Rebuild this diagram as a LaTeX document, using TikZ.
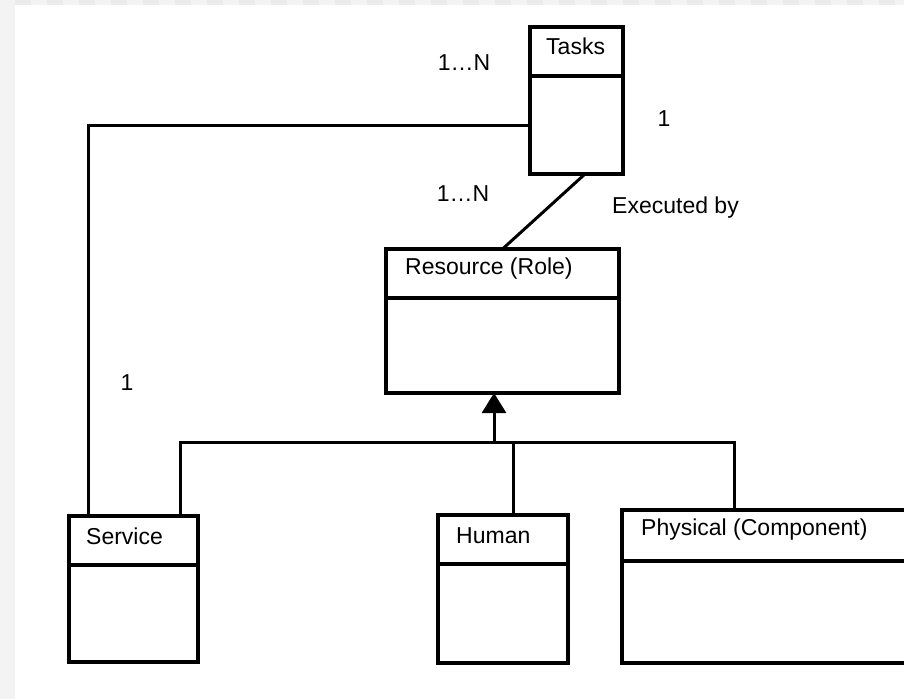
\documentclass[tikz,border=0pt]{standalone}
\usepackage{fontspec}
\setmainfont{Liberation Sans}
\usetikzlibrary{arrows.meta}
\definecolor{stripA}{HTML}{F3F3F3}
\definecolor{stripB}{HTML}{EBEBEB}
\tikzset{
classbox/.style={draw, line width=3.2pt, anchor=north west, inner sep=0pt, outer sep=0pt,
  path picture={
    \draw[line width=3.2pt] ([yshift=-#1]path picture bounding box.north west) --
                            ([yshift=-#1]path picture bounding box.north east);
  }},
classname/.style={anchor=west, inner sep=0pt},
mult/.style={inner sep=0pt},
link/.style={line width=3pt}
}

\begin{document}
\begin{tikzpicture}[x=1pt, y=-1pt, font=\fontsize{23}{26}\selectfont]
\useasboundingbox (0,0) rectangle (904,699);
\clip (0,0) rectangle (904,699);
% page strips
\fill[white] (0,0) rectangle (904,699);
\fill[stripA] (0,0) rectangle (15,699);
\fill[stripA] (15,0) rectangle (904,5);
\draw[stripB, line width=5pt, dash pattern=on 16pt off 16pt] (15,2.5) -- (904,2.5);

% classes
\node[classbox=49pt, minimum width=93pt, minimum height=147pt] (tasks) at (530,27) {};
\node[classname] (tasksname) at (546,46) {Tasks};
\node[classbox=49pt, minimum width=233pt, minimum height=144pt] (resource) at (386,249) {};
\node[classname] (resourcename) at (405,269) {Resource (Role)};
\node[classbox=49pt, minimum width=129pt, minimum height=146pt] (service) at (69,516) {};
\node[classname] (servicename) at (86,536) {Service};
\node[classbox=49pt, minimum width=130pt, minimum height=148pt] (human) at (438,515) {};
\node[classname] (humanname) at (456,536) {Human};
\node[classbox=51pt, minimum width=300pt, minimum height=153pt] (physical) at (622,510) {};
\node[classname] (physicalname) at (641,530) {Physical (Component)};

% multiplicities
\node[mult] (m1) at (464,63) {1…N};
\node[mult] (m2) at (463,194) {1…N};
\node[mult] (m3) at (664,119) {1};
\node[mult] (m4) at (127,383) {1};
\node[classname] (exec) at (612,208) {Executed by};

% associations
\draw[link] ([xshift=19pt]service.north west) |- ([yshift=-98pt]tasks.north west);
\draw[link] ([xshift=8.5pt]tasks.south) -- (resource.north);

% generalization
\coordinate (joint) at (494,442);
\draw[link, -{Triangle[length=20pt,width=24pt]}] (joint) -- (joint |- resource.south);
\draw[link] ([xshift=111pt]service.north west) |- (joint) -| ([xshift=112pt]physical.north west);
\draw[link] ([xshift=75pt]human.north west) |- (joint);
\end{tikzpicture}
\end{document}
